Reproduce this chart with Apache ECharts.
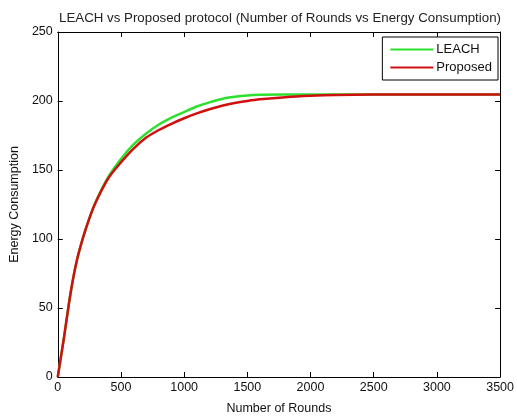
<!DOCTYPE html>
<html>
<head>
<meta charset="utf-8">
<script src="https://cdn.jsdelivr.net/npm/echarts@6/dist/echarts.min.js"></script>
<style>html,body{margin:0;padding:0;background:#fff}#c{width:517px;height:420px}</style>
</head>
<body>
<div id="c"></div>
<script>
var rounds   = [0, 50, 100, 150, 200, 250, 300, 400, 500, 600, 700, 800, 900, 1000, 1100, 1200, 1300, 1400, 1500, 1600, 1800, 2000, 2200, 2500, 3000, 3500];
var leach    = [0, 29, 60, 84, 101, 115, 127, 145, 158, 168.5, 176.5, 183, 188, 192, 196, 199, 201.5, 203, 204, 204.5, 204.8, 204.8, 204.8, 204.8, 204.8, 204.8];
var proposed = [0, 29, 60, 84, 101, 115, 126.5, 144, 155.5, 165.5, 173.5, 179, 183.5, 187.5, 191, 194, 196.5, 198.5, 200, 201.2, 202.8, 203.8, 204.4, 204.7, 204.8, 204.8];
var xTicks = [0, 500, 1000, 1500, 2000, 2500, 3000, 3500];
var yTicks = [0, 50, 100, 150, 200, 250];

function pairs(xs, ys){ return xs.map(function(x,i){ return [x, ys[i]]; }); }

var font = 'Liberation Sans, Arial, sans-serif';
var chart = echarts.init(document.getElementById('c'));
function ax(extra){
  return Object.assign({
    axisLine: {show: true, onZero: false, lineStyle: {color: '#000', width: 1}},
    axisTick: {show: true, inside: true, length: 5, lineStyle: {color: '#000'}},
    splitLine: {show: false}
  }, extra);
}
chart.setOption({
  animation: false,
  backgroundColor: '#fff',
  title: {
    text: 'LEACH vs Proposed protocol (Number of Rounds vs Energy Consumption)',
    left: 275, top: 7, textAlign: 'center',
    textStyle: {fontFamily: font, fontSize: 13.3, fontWeight: 'normal', color: '#222'}
  },
  legend: {
    orient: 'vertical', right: 19, top: 37,
    backgroundColor: '#fff', borderColor: '#000', borderWidth: 1, borderRadius: 0,
    padding: [6, 6, 6, 8], itemGap: 5, itemWidth: 43, itemHeight: 14,
    icon: 'path://M0,6 L43,6 L43,8 L0,8 Z',
    textStyle: {fontFamily: font, fontSize: 13, color: '#111', padding: [0,0,0,-2]},
    data: ['LEACH', 'Proposed']
  },
  grid: {left: 57, right: 14, top: 32, bottom: 38, containLabel: false},
  xAxis: [
    ax({type: 'value', min: 0, max: 3500, interval: 500, position: 'bottom',
      name: 'Number of Rounds', nameLocation: 'middle', nameGap: 25,
      nameTextStyle: {fontFamily: font, fontSize: 12.5, color: '#111'},
      axisLabel: {fontFamily: font, fontSize: 12.5, color: '#111', margin: 4,
        formatter: function(v){ return String(v); }}
    }),
    ax({type: 'value', min: 0, max: 3500, interval: 500, position: 'top',
      axisLabel: {show: false}})
  ],
  yAxis: [
    ax({type: 'value', min: 0, max: 250, interval: 50, position: 'left',
      name: 'Energy Consumption', nameLocation: 'middle', nameGap: 35,
      nameTextStyle: {fontFamily: font, fontSize: 12.5, color: '#111'},
      axisLabel: {fontFamily: font, fontSize: 12.5, color: '#111', margin: 5,
        formatter: function(v){ return String(v); }}
    }),
    ax({type: 'value', min: 0, max: 250, interval: 50, position: 'right',
      axisLabel: {show: false}})
  ],
  series: [
    {name: 'LEACH', type: 'line', data: pairs(rounds, leach), smooth: 0.25, showSymbol: false,
      lineStyle: {color: '#2ee02e', width: 2.5}, itemStyle: {color: '#2ee02e'}},
    {name: 'Proposed', type: 'line', data: pairs(rounds, proposed), smooth: 0.25, showSymbol: false,
      lineStyle: {color: '#d01010', width: 2.5}, itemStyle: {color: '#d01010'}}
  ]
});
</script>
</body>
</html>
